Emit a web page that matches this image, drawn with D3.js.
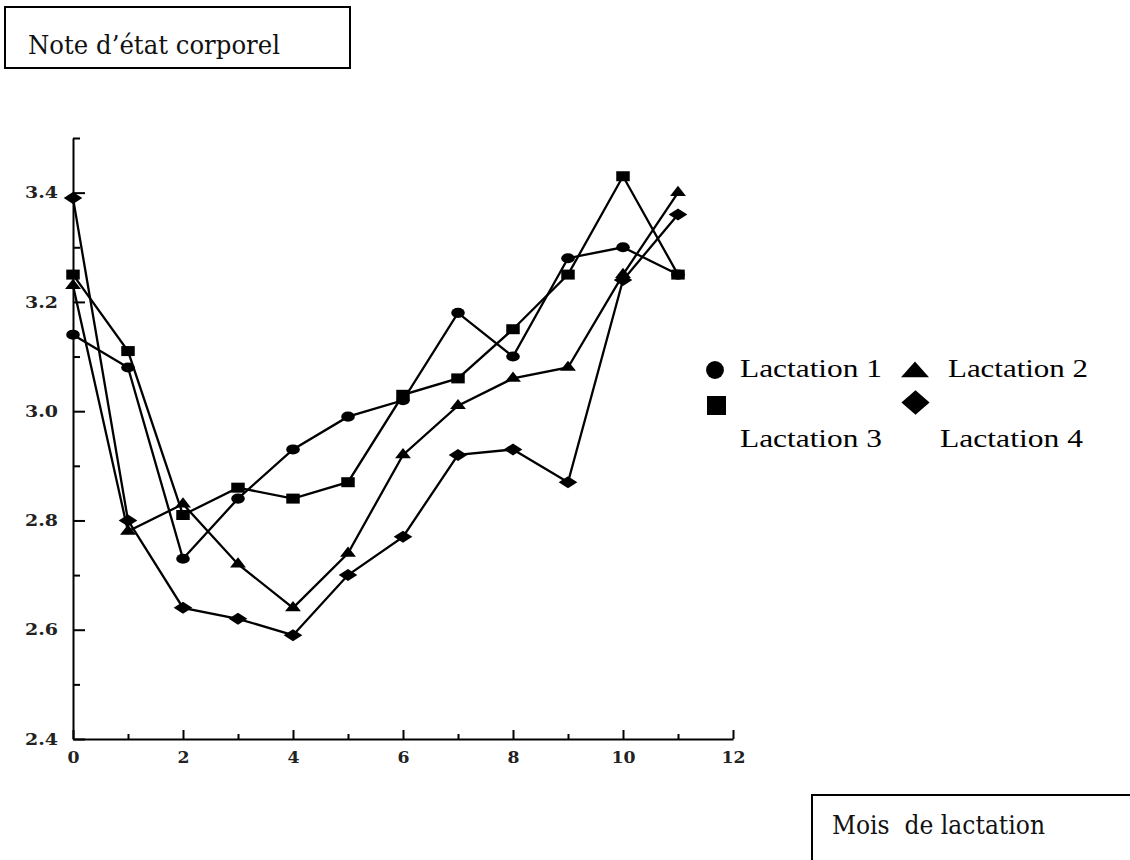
<!DOCTYPE html>
<html>
<head>
<meta charset="utf-8">
<script src="https://cdn.jsdelivr.net/npm/d3@7"></script>
<style>
  body { margin: 0; background: #fff; }
  svg { display: block; }
</style>
</head>
<body>
<div id="chart"></div>
<script>

// months of lactation
let months = [0, 1, 2, 3, 4, 5, 6, 7, 8, 9, 10, 11];

// body condition score per lactation
let lactation1 = [3.14, 3.08, 2.73, 2.84, 2.93, 2.99, 3.02, 3.18, 3.10, 3.28, 3.30, 3.25];
let lactation2 = [3.23, 2.78, 2.83, 2.72, 2.64, 2.74, 2.92, 3.01, 3.06, 3.08, 3.25, 3.40];
let lactation3 = [3.25, 3.11, 2.81, 2.86, 2.84, 2.87, 3.03, 3.06, 3.15, 3.25, 3.43, 3.25];
let lactation4 = [3.39, 2.80, 2.64, 2.62, 2.59, 2.70, 2.77, 2.92, 2.93, 2.87, 3.24, 3.36];

let seriesNames = ["Lactation 1", "Lactation 2", "Lactation 3", "Lactation 4"];

let xMajorTicks = [0, 2, 4, 6, 8, 10, 12];
let xMinorTicks = [1, 3, 5, 7, 9, 11];
let yMajorTicks = [2.4, 2.6, 2.8, 3.0, 3.2, 3.4];
let yMinorTicks = [2.5, 2.7, 2.9, 3.1, 3.3, 3.5];

let titleText = "Note d\u2019état corporel";
let xTitleText = "Mois  de lactation";

let margin = {
      top: 138,
      left: 73,
      right: 397,
      bottom: 121
    },
    W = 1130,
    H = 860;

let svg = d3.select("#chart")
  .append("svg")
  .attr("width", W)
  .attr("height", H);

let x = d3.scaleLinear()
  .domain([0, 12])
  .range([margin.left, W - margin.right]);

let y = d3.scaleLinear()
  .domain([2.4, 3.5])
  .range([H - margin.bottom, margin.top]);

// diamond that is wider than tall, like in the scan
let wideDiamond = {
  draw: function (ctx, size) {
    let h = Math.sqrt(size / 2);
    ctx.moveTo(0, -h);
    ctx.lineTo(h * 1.15, 0);
    ctx.lineTo(0, h);
    ctx.lineTo(-h * 1.15, 0);
    ctx.closePath();
  }
};

let series = [
  { name: seriesNames[0], values: lactation1, shape: d3.symbolCircle, size: 80 },
  { name: seriesNames[1], values: lactation2, shape: d3.symbolTriangle, size: 60 },
  { name: seriesNames[2], values: lactation3, shape: d3.symbolSquare, size: 100 },
  { name: seriesNames[3], values: lactation4, shape: wideDiamond, size: 72 }
];

// ---- axes ----
let serif = "'DejaVu Serif', serif";

let yAxis = svg.append("g")
  .attr("transform", "translate(" + margin.left + ",0)")
  .call(d3.axisLeft(y)
    .tickValues(yMajorTicks)
    .tickFormat(d3.format(".1f"))
    .tickSizeInner(-12)
    .tickSizeOuter(0)
    .tickPadding(15));

svg.append("g")
  .attr("transform", "translate(" + margin.left + ",0)")
  .call(d3.axisLeft(y)
    .tickValues(yMinorTicks)
    .tickFormat("")
    .tickSizeInner(-7)
    .tickSizeOuter(0))
  .select(".domain").remove();

let xAxis = svg.append("g")
  .attr("transform", "translate(0," + (H - margin.bottom) + ")")
  .call(d3.axisBottom(x)
    .tickValues(xMajorTicks)
    .tickSizeInner(-9)
    .tickSizeOuter(0)
    .tickPadding(13));

svg.append("g")
  .attr("transform", "translate(0," + (H - margin.bottom) + ")")
  .call(d3.axisBottom(x)
    .tickValues(xMinorTicks)
    .tickFormat("")
    .tickSizeInner(-5)
    .tickSizeOuter(0))
  .select(".domain").remove();

svg.selectAll(".domain")
  .attr("stroke", "#000")
  .attr("stroke-width", 2);

svg.selectAll(".tick line")
  .attr("stroke", "#000")
  .attr("stroke-width", 2);

yAxis.selectAll("text")
  .attr("font-family", serif)
  .attr("font-weight", "bold")
  .attr("font-size", 16)
  .attr("fill", "#222")
  .attr("textLength", 33)
  .attr("lengthAdjust", "spacingAndGlyphs");

xAxis.selectAll("text")
  .attr("font-family", serif)
  .attr("font-weight", "bold")
  .attr("font-size", 16)
  .attr("fill", "#222")
  .attr("textLength", (d) => String(d).length * 12)
  .attr("lengthAdjust", "spacingAndGlyphs");

// ---- lines and markers ----
let line = d3.line()
  .x((d, i) => x(months[i]))
  .y((d) => y(d));

let g = svg.append("g");

g.selectAll("path.series")
  .data(series)
  .enter()
    .append("path")
      .attr("class", "series")
      .attr("d", (s) => line(s.values))
      .attr("fill", "none")
      .attr("stroke", "#000")
      .attr("stroke-width", 2.3);

series.forEach(function (s) {
  g.selectAll(null)
    .data(s.values)
    .enter()
      .append("path")
        .attr("d", d3.symbol().type(s.shape).size(s.size))
        .attr("transform", (d, i) => "translate(" + x(months[i]) + "," + y(d) + ") scale(1.35,1)")
        .attr("fill", "#000");
});

// ---- legend ----
let legendItems = [
  { s: series[0], sx: 715, sy: 370, size: 250, tx: 740, ty: 377, len: 142 },
  { s: series[1], sx: 915, sy: 372, size: 200, tx: 948, ty: 377, len: 140 },
  { s: series[2], sx: 716.5, sy: 405.5, size: 361, tx: 740, ty: 447, len: 142 },
  { s: series[3], sx: 915.5, sy: 402.5, size: 300, tx: 940, ty: 447, len: 143 }
];

let legend = svg.append("g");

legend.selectAll("path")
  .data(legendItems)
  .enter()
    .append("path")
      .attr("d", (d) => d3.symbol().type(d.s.shape).size(d.size)())
      .attr("transform", (d) => "translate(" + d.sx + "," + d.sy + ")" + (d.s.shape === d3.symbolTriangle ? " scale(1.3,0.85)" : ""))
      .attr("fill", "#000");

legend.selectAll("text")
  .data(legendItems)
  .enter()
    .append("text")
      .attr("x", (d) => d.tx)
      .attr("y", (d) => d.ty)
      .attr("font-family", "'Liberation Serif', 'Times New Roman', serif")
      .attr("font-size", 26)
      .attr("textLength", (d) => d.len)
      .attr("lengthAdjust", "spacingAndGlyphs")
      .text((d) => d.s.name);

// ---- boxed titles ----
svg.append("rect")
  .attr("x", 5)
  .attr("y", 7)
  .attr("width", 345)
  .attr("height", 61)
  .attr("fill", "#fff")
  .attr("stroke", "#000")
  .attr("stroke-width", 2);

svg.append("text")
  .attr("x", 28)
  .attr("y", 54)
  .attr("font-family", serif)
  .attr("font-size", 26)
  .attr("fill", "#111")
  .attr("textLength", 252)
  .attr("lengthAdjust", "spacingAndGlyphs")
  .text(titleText);

svg.append("rect")
  .attr("x", 812)
  .attr("y", 795)
  .attr("width", 340)
  .attr("height", 90)
  .attr("fill", "#fff")
  .attr("stroke", "#000")
  .attr("stroke-width", 2);

svg.append("text")
  .attr("x", 832)
  .attr("y", 834)
  .attr("font-family", serif)
  .attr("font-size", 26)
  .attr("fill", "#111")
  .style("white-space", "pre")
  .attr("textLength", 213)
  .attr("lengthAdjust", "spacingAndGlyphs")
  .text(xTitleText);

</script>
</body>
</html>
